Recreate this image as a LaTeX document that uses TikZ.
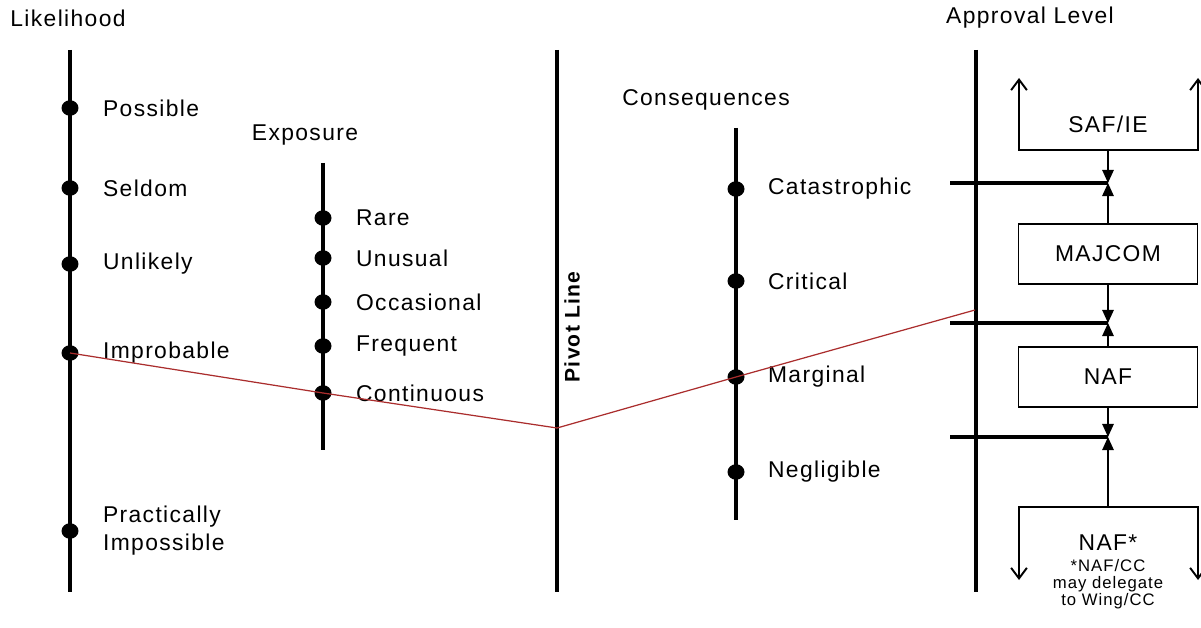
\documentclass[tikz,border=0pt]{standalone}
\usepackage{fontspec}
\setmainfont{Liberation Sans}[LetterSpace=6]
\usepackage{xcolor}
\usetikzlibrary{shapes.geometric, arrows.meta, positioning}
\definecolor{pivred}{RGB}{170,45,45}

\begin{document}
\begin{tikzpicture}[x=0.02cm, y=-0.02cm,
    txt/.style={font=\fontsize{13}{16}\selectfont, inner sep=1pt},
    lbl/.style={txt, anchor=west},
    axis/.style={line width=1.8pt},
    dot/.style={ellipse, fill, inner sep=0pt, minimum width=0.34cm, minimum height=0.31cm},
    lvl/.style={draw, line width=1.1pt, minimum width=3.58cm, minimum height=1.2cm, txt},
    arr/.style={-{Triangle[length=7.5pt, width=6.5pt]}, line width=1.1pt},
    bracket/.style={{Straight Barb[length=6pt, width=9pt]}-{Straight Barb[length=6pt, width=9pt]}, line width=1.1pt},
    redline/.style={pivred, line width=0.7pt},
]
\useasboundingbox (0,0) rectangle (1201,628);

% headings
\node[txt] (likelihood) at (68,18) {Likelihood};
\node[txt] (exposure) at (305,135) {Exposure};
\node[txt] (conseq) at (706,100) {Consequences};
\node[txt] (approval) at (1030,18) {Approval Level};

% scales
\draw[axis] (70,50) -- (70,592);
\draw[axis] (323,163) -- (323,450);
\draw[axis] (557,50) -- (557,592);
\draw[axis] (736,128) -- (736,520);
\draw[axis] (976,50) -- (976,592);

\foreach \y/\name/\label in {108/poss/Possible, 188/seld/Seldom, 264/unlik/Unlikely, 353/improb/Improbable} {
    \node[dot] (\name) at (70,\y) {};
    \node[lbl] at (101,\y) {\label};
}
\node[dot] (pract) at (70,531) {};
\node[lbl, align=left] at (101,531) {Practically\\Impossible};

\foreach \y/\name/\label in {218/rare/Rare, 258/unus/Unusual, 302/occ/Occasional, 346/freq/Frequent, 393/cont/Continuous} {
    \node[dot] (\name) at (323,\y) {};
    \node[lbl] at (354,\y) {\label};
}

\foreach \y/\name/\label in {189/cat/Catastrophic, 281/crit/Critical, 377/marg/Marginal, 472/negl/Negligible} {
    \node[dot] (\name) at (736,\y) {};
    \node[lbl] at (766,\y) {\label};
}

\node[rotate=90, font=\bfseries\fontsize{12}{14}\selectfont, inner sep=1pt] (pivlbl) at (572,327) {Pivot Line};

% pivot construction
\coordinate (pivot) at (557,428);
\coordinate (apv) at (975,310);
\draw[redline] (improb.center) -- (cont.center) -- (pivot) -- (marg.center) -- (apv);

% approval levels
\node[lvl] (majcom) at (1108,254) {MAJCOM};
\node[lvl] (naf) at (1108,377) {NAF};
\node[txt] (saf) at (1108,124) {SAF/IE};
\node[txt] (nafstar) at (1108,543) {NAF*};
\node[align=center, font=\fontsize{9.5}{9.8}\selectfont, inner sep=0pt] (note) at (1108,584) {*NAF/CC\\may delegate\\to Wing/CC};

\coordinate (safbot) at (1108,150);
\coordinate (nstop) at (1108,507);
\coordinate (j1) at (1108,183);
\coordinate (j2) at (1108,323);
\coordinate (j3) at (1108,437);

\draw[bracket] (1019,78) -- (1019,150) -- (1198,150) -- (1198,78);
\draw[bracket] (1019,580) -- (1019,507) -- (1198,507) -- (1198,580);

\foreach \j in {j1, j2, j3}
    \draw[axis] (950,0 |- \j) -- (\j);

\draw[arr] (safbot) -- (j1);
\draw[arr] (majcom.north) -- (j1);
\draw[arr] (majcom.south) -- (j2);
\draw[arr] (naf.north) -- (j2);
\draw[arr] (naf.south) -- (j3);
\draw[arr] (nstop) -- (j3);

\end{tikzpicture}
\end{document}
